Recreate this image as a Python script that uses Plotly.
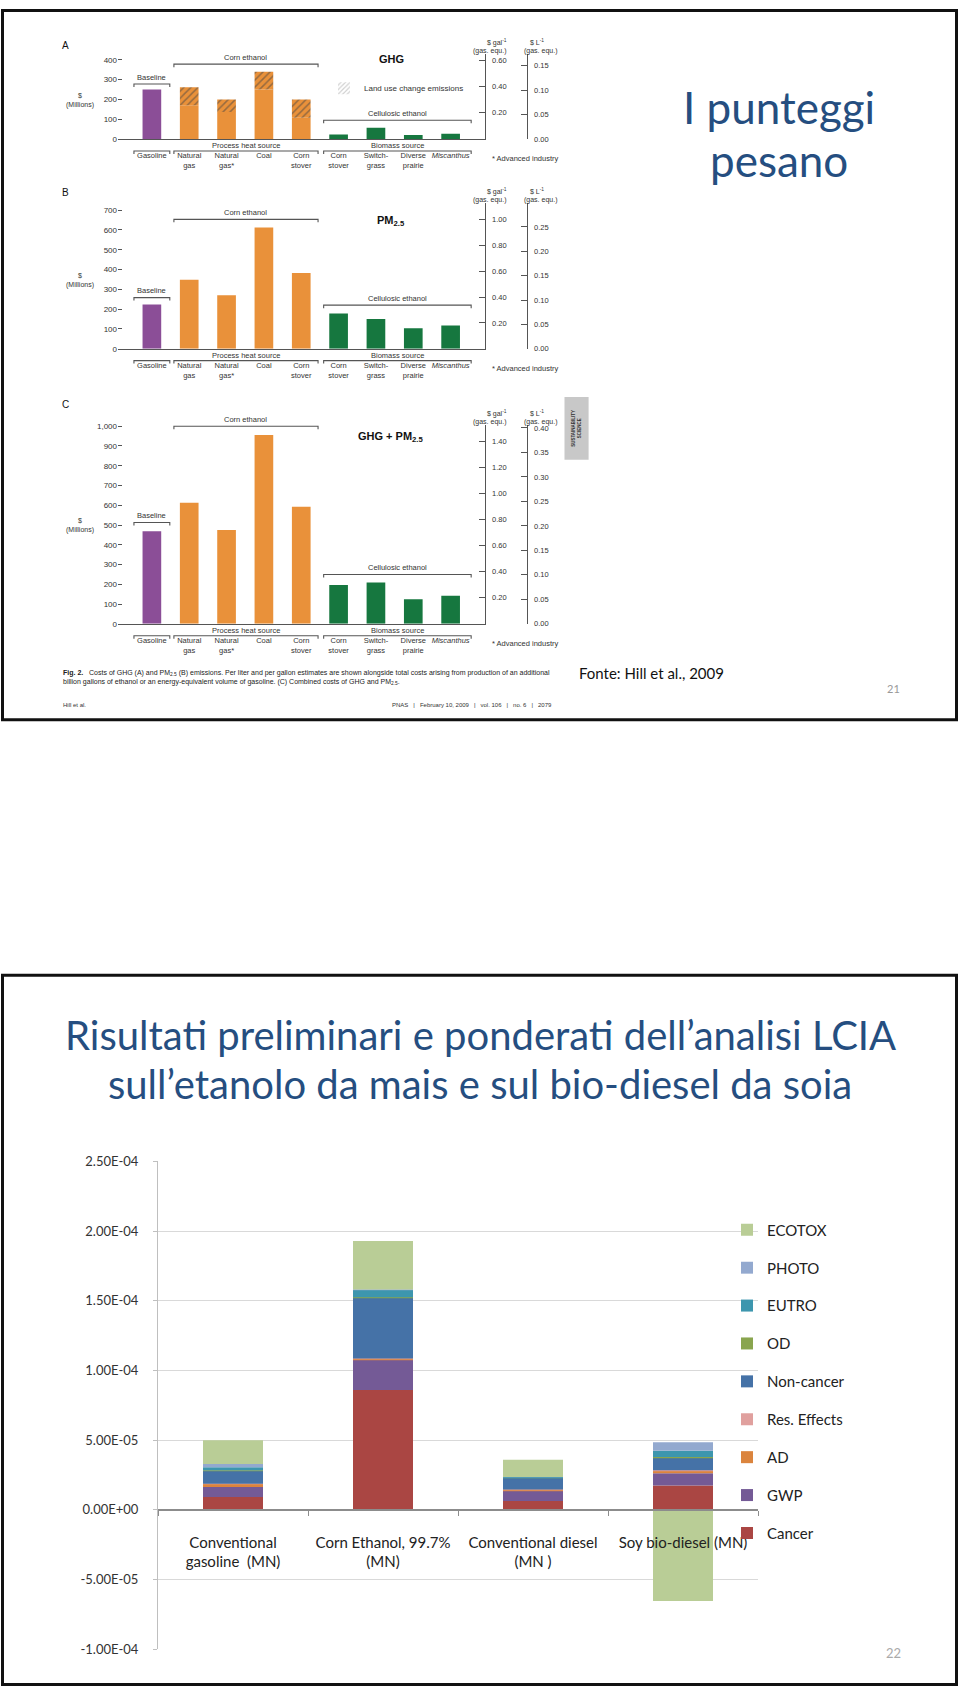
import plotly.graph_objects as go

W, H = 960, 1695


def PX(x):
    return x / W


def PY(y):
    return 1 - y / H


# ---------------- data: scanned figure (Hill et al., 2009) ----------------
scan_categories = ["Gasoline", "Natural<br>gas", "Natural<br>gas*", "Coal", "Corn<br>stover",
                   "Corn<br>stover", "Switch-<br>grass", "Diverse<br>prairie", "<i>Miscanthus</i>"]
scan_groups = ["baseline", "corn", "corn", "corn", "corn", "cell", "cell", "cell", "cell"]
ghg_direct = [250, 170, 137, 250, 107, 23, 57, 20, 27]
ghg_land_use = [0, 91, 63, 90, 93, 0, 0, 0, 0]
pm25 = [223, 348, 270, 612, 383, 178, 150, 103, 118]
ghg_pm25 = [468, 613, 475, 956, 593, 197, 209, 125, 142]

ticks_A = [0, 100, 200, 300, 400]
ticks_B = [0, 100, 200, 300, 400, 500, 600, 700]
ticks_C = [0, 100, 200, 300, 400, 500, 600, 700, 800, 900, 1000]
gal_ticks_A = [0.20, 0.40, 0.60]
gal_ticks_B = [0.20, 0.40, 0.60, 0.80, 1.00]
gal_ticks_C = [0.20, 0.40, 0.60, 0.80, 1.00, 1.20, 1.40]
L_ticks_A = [0.00, 0.05, 0.10, 0.15]
L_ticks_B = [0.00, 0.05, 0.10, 0.15, 0.20, 0.25]
L_ticks_C = [0.00, 0.05, 0.10, 0.15, 0.20, 0.25, 0.30, 0.35, 0.40]

# ---------------- data: LCIA chart ----------------
lcia_categories = ["Conventional<br>gasoline  (MN)", "Corn Ethanol, 99.7%<br>(MN)",
                   "Conventional diesel<br>(MN )", "Soy bio-diesel (MN)"]
impact_names = ["Cancer", "GWP", "AD", "Res. Effects", "Non-cancer", "OD", "EUTRO", "PHOTO", "ECOTOX"]
cancer = [9.2e-6, 8.6e-5, 6.4e-6, 1.75e-5]
gwp = [7.2e-6, 2.19e-5, 7.2e-6, 8.8e-6]
ad = [2.1e-6, 3e-7, 9e-7, 1.9e-6]
res_effects = [3e-7, 3e-7, 2e-7, 3e-7]
non_cancer = [9.4e-6, 4.39e-5, 8.1e-6, 9.2e-6]
od = [2e-7, 2e-7, 1e-7, 2e-7]
eutro = [2.2e-6, 5.2e-6, 6e-7, 4.5e-6]
photo = [2.4e-6, 3e-7, 1e-7, 6.2e-6]
ecotox = [1.7e-5, 3.48e-5, 1.23e-5, -6.54e-5]
impact_values = [cancer, gwp, ad, res_effects, non_cancer, od, eutro, photo, ecotox]
impact_colors = ["#AA4643", "#745A96", "#DB843D", "#E0A09E", "#4572A7", "#89A54E",
                 "#3D96AE", "#93A9CF", "#B9CD96"]
lcia_ticks = [-1e-4, -5e-5, 0, 5e-5, 1e-4, 1.5e-4, 2e-4, 2.5e-4]
lcia_tick_labels = ["-1.00E-04", "-5.00E-05", "0.00E+00", "5.00E-05", "1.00E-04",
                    "1.50E-04", "2.00E-04", "2.50E-04"]

# ---------------- styling / geometry ----------------
SCAN_FONT = "Liberation Sans"
SLIDE_FONT = "Lato"
TXT = "#333333"
LINE = "#555555"
group_colors = {"baseline": "#8B4E97", "corn": "#E9913A", "cell": "#16773F"}
bar_colors = [group_colors[g] for g in scan_groups]
idx = list(range(len(scan_categories)))

X_LEFT, X_RIGHT = 118, 484.5
X_RANGE = [-0.907, 8.907]
L_AXIS_X = 526.5

panels = {
    "A": dict(top=46.7, zero=132.3, ymax=428, galmax=0.645, Lmax=0.1735,
              ticks=ticks_A, gal=gal_ticks_A, L=L_ticks_A, title="GHG", title_y=51.7,
              letter_y=37.7, ylab_val=195, levels=(278, 378, 95)),
    "B": dict(top=197, zero=344, ymax=735, galmax=1.126, Lmax=0.2988,
              ticks=ticks_B, gal=gal_ticks_B, L=L_ticks_B, title="PM<sub>2.5</sub>", title_y=215,
              letter_y=186, ylab_val=345, levels=(258, 653, 220)),
    "C": dict(top=421, zero=621.7, ymax=1006, galmax=1.525, Lmax=0.406,
              ticks=ticks_C, gal=gal_ticks_C, L=L_ticks_C, title="GHG + PM<sub>2.5</sub>",
              title_y=433.3, letter_y=400.7, ylab_val=500, levels=(513, 1000, 250)),
}
axis_ids = {"A": ("", "", "5", "6"), "B": ("2", "2", "7", "8"), "C": ("3", "3", "9", "10")}


def cx(i):
    return X_LEFT + (i - X_RANGE[0]) / (X_RANGE[1] - X_RANGE[0]) * (X_RIGHT - X_LEFT)


def vy(p, v):
    g = panels[p]
    return g["zero"] - v / g["ymax"] * (g["zero"] - g["top"])


def fmt_int(v):
    return f"{v:,}"


fig = go.Figure()
layout = dict(width=W, height=H, margin=dict(l=0, r=0, t=0, b=0), autosize=False,
              paper_bgcolor="white", plot_bgcolor="rgba(0,0,0,0)", barmode="relative",
              showlegend=True)
annotations = []
shapes = []


def ann(x, y, text, size, color=TXT, family=SCAN_FONT, xanchor="center", yanchor="middle", **kw):
    annotations.append(dict(x=PX(x), y=PY(y), xref="paper", yref="paper", text=text,
                            showarrow=False, xanchor=xanchor, yanchor=yanchor,
                            font=dict(size=size, color=color, family=family), **kw))


def bracket(x0, x1, y, tick=3, width=1.1, color=LINE):
    path = (f"M{PX(x0)},{PY(y + tick)} L{PX(x0)},{PY(y)} "
            f"L{PX(x1)},{PY(y)} L{PX(x1)},{PY(y + tick)}")
    shapes.append(dict(type="path", path=path, xref="paper", yref="paper",
                       line=dict(color=color, width=width)))


top_brackets = [("Baseline", -0.48, 0.48), ("Corn ethanol", 0.59, 4.45), ("Cellulosic ethanol", 4.6, 8.55)]
bottom_brackets = [("", -0.48, 0.48), ("Process heat source", 0.59, 4.45), ("Biomass source", 4.6, 8.55)]

panel_values = {"A": [ghg_direct, ghg_land_use], "B": [pm25], "C": [ghg_pm25]}

for p, g in panels.items():
    xs, ys, ygal, yL = axis_ids[p]
    xa, ya = "x" + xs, "y" + ys
    vals = panel_values[p]
    fig.add_trace(go.Bar(x=idx, y=vals[0], width=0.5, marker=dict(color=bar_colors, line_width=0),
                         xaxis=xa, yaxis=ya, showlegend=False, hoverinfo="skip"))
    if len(vals) > 1:
        fig.add_trace(go.Bar(x=idx, y=vals[1], width=0.5,
                             marker=dict(color=bar_colors, line_width=0,
                                         pattern=dict(shape="/", fillmode="overlay", fgcolor="#A3561C",
                                                      size=5, solidity=0.3)),
                             xaxis=xa, yaxis=ya, showlegend=False, hoverinfo="skip"))
    for yy in (ygal, yL):
        fig.add_trace(go.Scatter(x=[None], y=[None], xaxis=xa, yaxis="y" + yy,
                                 showlegend=False, hoverinfo="skip"))
    tickfont = dict(family=SCAN_FONT, size=8, color=TXT)
    layout["xaxis" + xs] = dict(domain=[PX(X_LEFT), PX(X_RIGHT)], range=X_RANGE, anchor=ya,
                                showline=True, linecolor=LINE, linewidth=1.2, showgrid=False,
                                zeroline=False, tickvals=idx, ticktext=scan_categories, ticks="",
                                tickfont=dict(family=SCAN_FONT, size=7.5, color=TXT),
                                ticklabelstandoff=9, fixedrange=True)
    layout["yaxis" + ys] = dict(domain=[PY(g["zero"]), PY(g["top"])], range=[0, g["ymax"]], anchor=xa,
                                showline=False, showgrid=False, zeroline=False, ticks="inside",
                                ticklen=4, tickcolor=LINE, tickvals=g["ticks"],
                                ticktext=[fmt_int(t) for t in g["ticks"]], tickfont=tickfont,
                                fixedrange=True)
    common_r = dict(overlaying=ya, side="right", showline=True, linecolor=LINE, linewidth=1,
                    showgrid=False, zeroline=False, ticks="inside", ticklen=6, tickcolor=LINE,
                    tickfont=dict(family=SCAN_FONT, size=7.5, color=TXT), ticklabelstandoff=5,
                    fixedrange=True)
    layout["yaxis" + ygal] = dict(anchor=xa, range=[0, g["galmax"]], tickvals=g["gal"],
                                  ticktext=[f"{t:.2f}" for t in g["gal"]], **common_r)
    layout["yaxis" + yL] = dict(anchor="free", position=PX(L_AXIS_X), range=[0, g["Lmax"]],
                                tickvals=g["L"], ticktext=[f"{t:.2f}" for t in g["L"]], **common_r)

    # decorations
    ann(65, g["letter_y"], p, 10, color="#111")
    ann(80, vy(p, g["ylab_val"]), "$<br>(Millions)", 7, color=TXT)
    ann(391, g["title_y"], "<b>" + g["title"] + "</b>", 11, color="#111")
    for (label, i0, i1), lev in zip(top_brackets, g["levels"]):
        y = vy(p, lev)
        bracket(cx(i0), cx(i1), y)
        ann((cx(i0) + cx(i1)) / 2, y - 7, label, 7.5)
    z = g["zero"]
    for label, i0, i1 in bottom_brackets:
        bracket(cx(i0), cx(i1), z + 12)
        if label:
            ann((cx(i0) + cx(i1)) / 2, z + 6.7, label, 7.5)
    ann(490, z + 19.5, "* Advanced industry", 7.5, xanchor="left")
    ann(497, g["top"] - 12, "$ gal<sup>-1</sup>", 7)
    ann(490, g["top"] - 3.5, "(gas. equ.)", 7)
    ann(537, g["top"] - 12, "$ L<sup>-1</sup>", 7)
    ann(540, g["top"] - 3.5, "(gas. equ.)", 7)

# hatch legend (panel A)
fig.add_trace(go.Bar(x=[None], y=[None], name="Land use change emissions", legend="legend2",
                     marker=dict(color="white", line_width=0,
                                 pattern=dict(shape="/", fillmode="overlay", fgcolor="#9A9A9A",
                                              bgcolor="white", size=4, solidity=0.35)),
                     xaxis="x", yaxis="y", hoverinfo="skip"))

# caption and footer of the scanned figure
ann(61, 671, "<b>Fig. 2.</b>   Costs of GHG (A) and PM<sub>2.5</sub> (B) emissions. Per liter and per gallon "
             "estimates are shown alongside total costs arising from production of an additional",
    7, xanchor="left", color="#222")
ann(61, 680.5, "billion gallons of ethanol or an energy-equivalent volume of gasoline. (C) Combined costs "
               "of GHG and PM<sub>2.5</sub>.", 7, xanchor="left", color="#222")
ann(61, 703.3, "Hill et al.", 6, xanchor="left", color="#333")
ann(554, 703.3, "PNAS   |   February 10, 2009   |   vol. 106   |   no. 6   |   2079", 6,
    xanchor="right", color="#333")

# Sustainability science tab
shapes.append(dict(type="rect", xref="paper", yref="paper", x0=PX(564.5), x1=PX(588.6),
                   y0=PY(456), y1=PY(392.7), fillcolor="#C8C8C8", line_width=0))
ann(576.5, 424.3, "<b>SUSTAINABILITY<br>SCIENCE</b>", 4.5, color="#333", textangle=-90)

# slide 1 texts
SLIDE_BLUE = "#254E80"
ann(779, 100, "I punteggi", 44, color=SLIDE_BLUE, family=SLIDE_FONT)
ann(779, 153, "pesano", 44, color=SLIDE_BLUE, family=SLIDE_FONT)
ann(577, 671, "Fonte: Hill et al., 2009", 15, color="#111", family=SLIDE_FONT, xanchor="left")
ann(893, 687, "21", 11, color="#999", family=SLIDE_FONT)

# slide 2 texts
ann(480, 1037, "Risultati preliminari e ponderati dell’analisi LCIA", 40, color=SLIDE_BLUE,
    family=SLIDE_FONT)
ann(480, 1086, "sull’etanolo da mais e sul bio-diesel da soia", 40, color=SLIDE_BLUE,
    family=SLIDE_FONT)
ann(893, 1661, "22", 13, color="#AAAAAA", family=SLIDE_FONT)

# ---------------- LCIA stacked bar chart ----------------
n_imp = len(impact_names)
for k, (name, vals, col) in enumerate(zip(impact_names, impact_values, impact_colors)):
    fig.add_trace(go.Bar(x=lcia_categories, y=vals, name=name, width=0.4, legendgroup=name,
                         legendrank=n_imp - k,
                         marker=dict(color=col, line_width=0), xaxis="x4", yaxis="y4",
                         hoverinfo="skip"))

y4_dom = [PY(1657), PY(1164.3)]
y4_rng = [-1e-4, 2.5e-4]
zero_pos = y4_dom[0] + (0 - y4_rng[0]) / (y4_rng[1] - y4_rng[0]) * (y4_dom[1] - y4_dom[0])
layout["xaxis4"] = dict(domain=[PX(158), PX(758)], range=[-0.5, 3.5], type="category",
                        anchor="free", position=zero_pos, showline=True, linecolor="#8C8C8C",
                        linewidth=2, ticks="outside", tickson="boundaries", ticklen=5,
                        tickcolor="#8C8C8C", showgrid=False, zeroline=False,
                        tickfont=dict(family=SLIDE_FONT, size=15, color="#222"),
                        ticklabelstandoff=19, fixedrange=True)
layout["yaxis4"] = dict(domain=y4_dom, range=y4_rng, anchor="x4", tickvals=lcia_ticks,
                        ticktext=lcia_tick_labels, showgrid=True, gridcolor="#D9D9D9", gridwidth=1,
                        showline=True, linecolor="#BFBFBF", ticks="outside", ticklen=4,
                        tickcolor="#BFBFBF", zeroline=False, ticklabelstandoff=12,
                        tickfont=dict(family=SLIDE_FONT, size=13, color="#333"), fixedrange=True)

layout["legend"] = dict(x=PX(727), y=PY(1217), xanchor="left", yanchor="top",
                        traceorder="grouped", tracegroupgap=15.4,
                        font=dict(family=SLIDE_FONT, size=15, color="#222"),
                        bgcolor="rgba(0,0,0,0)")
layout["legend2"] = dict(x=PX(324), y=PY(81), xanchor="left", yanchor="middle",
                         font=dict(family=SCAN_FONT, size=8, color=TXT), bgcolor="rgba(0,0,0,0)")

# slide borders
for y0, y1 in ((2.5, 718.5), (976.5, 1692.5)):
    shapes.append(dict(type="rect", xref="paper", yref="paper", x0=PX(2.5), x1=PX(956.5),
                       y0=PY(y1), y1=PY(y0), line=dict(color="#111", width=3),
                       fillcolor="rgba(0,0,0,0)"))

layout["annotations"] = annotations
layout["shapes"] = shapes
fig.update_layout(**layout)
fig.write_html("out.html", config={"displayModeBar": False})
